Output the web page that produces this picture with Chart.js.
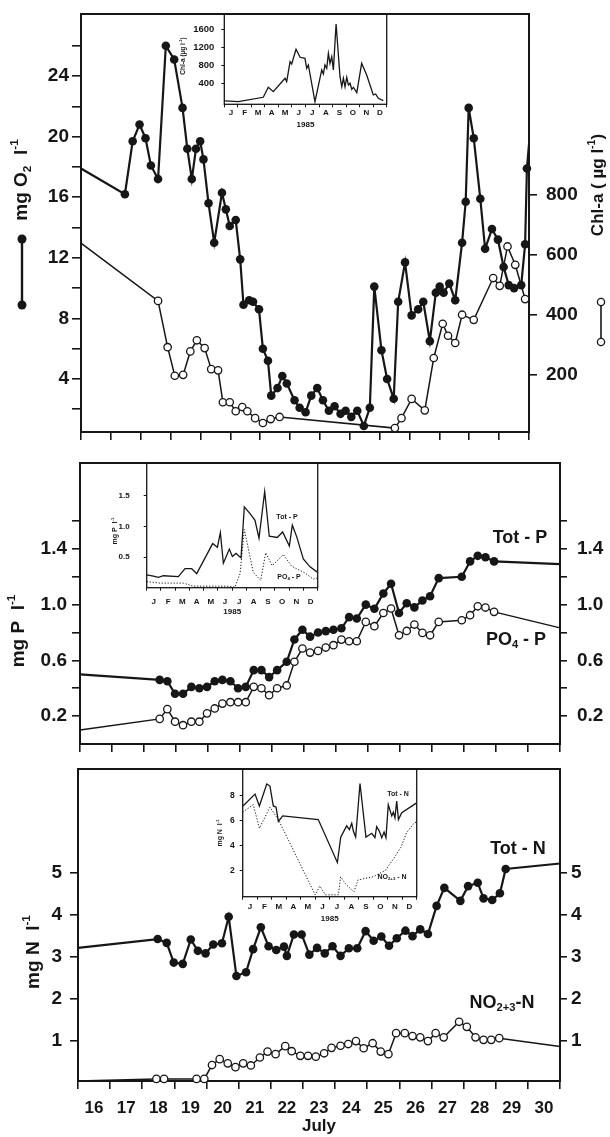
<!DOCTYPE html>
<html>
<head>
<meta charset="utf-8">
<title>July 1985 - O2, Chl-a, P and N</title>
<script src="https://cdn.jsdelivr.net/npm/chart.js"></script>
<style>
  body { margin: 0; background: #fff; width: 610px; height: 1137px; position: relative; overflow: hidden; }
  canvas { position: absolute; }
</style>
</head>
<body>
<canvas id="o2Chart"></canvas>
<canvas id="pChart"></canvas>
<canvas id="nChart"></canvas>
<canvas id="chlYear"></canvas>
<canvas id="pYear"></canvas>
<canvas id="nYear"></canvas>
<script>
'use strict';

// ************ DATA - main panels, time in days of July 1985

const o2Day = [16.00, 17.47, 17.73, 17.96, 18.16, 18.34, 18.58, 18.84, 19.12, 19.40, 19.56, 19.71, 19.85, 19.99, 20.10, 20.27, 20.46, 20.72, 20.85, 20.98,
  21.18, 21.33, 21.44, 21.63, 21.76, 21.96, 22.09, 22.26, 22.37, 22.58, 22.74, 22.89, 23.15, 23.32, 23.52, 23.71, 23.91, 24.10, 24.30, 24.49,
  24.69, 24.86, 25.05, 25.25, 25.47, 25.67, 25.82, 26.06, 26.25, 26.47, 26.62, 26.85, 27.07, 27.29, 27.46, 27.68, 27.88, 28.01, 28.14, 28.33,
  28.53, 28.76, 28.88, 28.98, 29.15, 29.37, 29.53, 29.76, 29.96, 30.15, 30.32, 30.50, 30.74, 30.87, 30.93, 31.00];
const o2Val = [17.9, 16.2, 19.7, 20.8, 19.9, 18.1, 17.2, 26.0, 25.1, 21.9, 19.2, 17.2, 19.2, 19.7, 18.5, 15.6, 13.0, 16.3, 15.2, 14.1,
  14.5, 11.9, 8.9, 9.2, 9.1, 8.6, 6.0, 5.2, 2.9, 3.4, 4.2, 3.7, 2.6, 2.1, 1.8, 2.9, 3.4, 2.6, 1.9, 2.2,
  1.7, 1.9, 1.5, 1.9, 0.9, 2.1, 10.1, 5.9, 4.0, 2.7, 9.1, 11.7, 8.2, 8.6, 9.1, 6.5, 9.7, 10.1, 9.7, 10.3,
  9.2, 13.0, 15.7, 21.9, 19.9, 15.9, 12.6, 13.9, 13.2, 11.4, 10.2, 10.0, 10.2, 12.9, 17.9, 19.5];

const chlDay = [16.00, 18.58, 18.90, 19.14, 19.42, 19.66, 19.88, 20.14, 20.36, 20.59, 20.75, 20.98, 21.18, 21.40, 21.57, 21.83, 22.09, 22.35, 22.65,
  26.51, 26.73, 27.07, 27.51, 27.81, 28.11, 28.29, 28.53, 28.76, 29.15, 29.80, 30.02, 30.28, 30.54, 30.87];
const chlVal = [638, 446, 292, 197, 200, 278, 315, 289, 219, 215, 109, 109, 79, 93, 79, 56, 40, 53, 60,
  23, 56, 120, 82, 256, 370, 330, 306, 400, 383, 522, 496, 627, 566, 452];

const pDay = [16.00, 18.49, 18.73, 18.97, 19.22, 19.48, 19.73, 19.97, 20.21, 20.45, 20.70, 20.94, 21.18, 21.43, 21.67, 21.91, 22.16, 22.46, 22.70, 22.95,
  23.19, 23.44, 23.68, 23.92, 24.17, 24.41, 24.65, 24.93, 25.20, 25.48, 25.72, 25.97, 26.21, 26.45, 26.70, 26.94, 27.21, 27.93, 28.19, 28.43,
  28.67, 28.94, 31.00];
const totPVal = [0.50, 0.46, 0.45, 0.36, 0.36, 0.41, 0.40, 0.41, 0.45, 0.46, 0.45, 0.40, 0.41, 0.53, 0.53, 0.48, 0.53, 0.59, 0.75, 0.82,
  0.77, 0.80, 0.81, 0.82, 0.83, 0.91, 0.90, 1.00, 0.97, 1.08, 1.15, 0.94, 1.01, 0.98, 1.03, 1.06, 1.19, 1.20, 1.31, 1.35,
  1.34, 1.31, 1.29];
const po4Val = [0.10, 0.18, 0.25, 0.16, 0.135, 0.16, 0.16, 0.22, 0.255, 0.29, 0.30, 0.30, 0.30, 0.41, 0.40, 0.35, 0.40, 0.42, 0.59, 0.685,
  0.656, 0.668, 0.692, 0.709, 0.749, 0.737, 0.737, 0.876, 0.845, 0.94, 0.972, 0.78, 0.811, 0.857, 0.797, 0.78, 0.876, 0.888, 0.924, 0.988,
  0.979, 0.948, 0.833];

const totNDay = [16.00, 18.48, 18.76, 18.98, 19.26, 19.51, 19.73, 19.97, 20.21, 20.48, 20.69, 20.93, 21.23, 21.45, 21.69, 21.93, 22.17, 22.41, 22.50, 22.72,
  22.96, 23.20, 23.44, 23.68, 23.92, 24.17, 24.43, 24.69, 24.95, 25.20, 25.44, 25.68, 25.92, 26.19, 26.41, 26.65, 26.89, 27.16, 27.40, 27.90,
  28.14, 28.44, 28.62, 28.89, 29.13, 29.31, 31.00];
const totNVal = [3.21, 3.42, 3.33, 2.86, 2.83, 3.41, 3.14, 3.08, 3.29, 3.32, 3.95, 2.54, 2.63, 3.18, 3.70, 3.25, 3.16, 3.24, 3.02, 3.53,
  3.53, 3.05, 3.21, 3.08, 3.25, 3.02, 3.20, 3.20, 3.61, 3.38, 3.48, 3.26, 3.44, 3.62, 3.49, 3.65, 3.54, 4.21, 4.64, 4.33,
  4.68, 4.76, 4.39, 4.35, 4.51, 5.09, 5.22];

const noxDay = [16.00, 18.44, 18.68, 19.69, 19.93, 20.17, 20.41, 20.66, 20.90, 21.14, 21.38, 21.66, 21.90, 22.15, 22.45, 22.65, 22.92, 23.16, 23.40, 23.66,
  23.89, 24.17, 24.41, 24.65, 24.89, 25.17, 25.42, 25.66, 25.90, 26.17, 26.41, 26.65, 26.89, 27.13, 27.38, 27.86, 28.10, 28.37, 28.62, 28.86,
  29.11, 31.00];
const noxVal = [0.04, 0.09, 0.09, 0.09, 0.09, 0.42, 0.56, 0.46, 0.37, 0.46, 0.41, 0.60, 0.74, 0.68, 0.87, 0.75, 0.64, 0.64, 0.62, 0.70,
  0.83, 0.88, 0.92, 0.99, 0.82, 0.94, 0.74, 0.68, 1.18, 1.18, 1.11, 1.08, 0.99, 1.18, 1.08, 1.45, 1.33, 1.08, 1.02, 1.02,
  1.06, 0.86];

// ************ DATA - insets, time in months of 1985 (0 = 1 January)

const chlYearMonth = [0.05, 1.03, 2.88, 3.25, 3.62, 4.49, 4.61, 4.86, 4.98, 5.30, 5.60, 5.96, 6.09, 6.21, 6.70, 7.20, 7.32, 7.44, 7.57, 7.69,
  7.81, 7.94, 8.06, 8.26, 8.55, 8.68, 8.80, 8.92, 9.05, 9.17, 9.29, 9.42, 9.54, 9.79, 10.15, 10.52, 11.01, 11.18, 11.38, 11.75];
const chlYearVal = [20, 0, 98, 320, 222, 520, 444, 888, 837, 1163, 986, 963, 741, 815, 0, 704, 615, 815, 741, 1074,
  852, 999, 704, 1725, 555, 333, 520, 333, 542, 370, 408, 275, 320, 200, 852, 593, 149, 171, 75, 22];

const totPYearMonth = [0, 0.47, 0.82, 1.17, 2.22, 2.69, 3.16, 3.51, 4.63, 4.96, 5.17, 5.38, 5.80, 6.01, 6.27, 6.50, 6.62, 6.85, 7.25, 7.60,
  7.88, 8.28, 8.60, 9.16, 9.54, 10.01, 10.22, 10.53, 10.99, 11.46, 12];
const totPYearVal = [0.21, 0.19, 0.17, 0.195, 0.18, 0.31, 0.31, 0.23, 0.72, 0.66, 0.90, 0.40, 0.63, 0.51, 0.56, 0.51, 0.49, 1.32, 1.21, 1.10,
  0.81, 1.57, 0.84, 0.82, 0.91, 0.68, 1.02, 0.83, 0.47, 0.34, 0.25];
const po4YearMonth = [0, 0.93, 2.57, 3.27, 5.61, 6.20, 6.55, 6.85, 7.48, 8.00, 8.35, 8.81, 9.59, 10.18, 11.11, 11.69, 12];
const po4YearVal = [0.10, 0.075, 0.075, 0.025, 0.025, 0.01, 0.23, 0.95, 0.25, 0.12, 0.57, 0.36, 0.54, 0.35, 0.24, 0.14, 0.16];

const totNYearMonth = [0, 0.85, 1.15, 1.66, 1.88, 2.11, 2.30, 2.46, 2.76, 5.21, 6.53, 6.76, 7.17, 7.36, 7.52, 7.63, 7.79, 8.09, 8.50, 8.90,
  9.12, 9.24, 9.42, 9.59, 9.75, 9.88, 10.04, 10.28, 10.39, 10.50, 10.62, 10.74, 10.97, 12];
const totNYearVal = [7.18, 8.15, 7.2, 8.97, 8.8, 7.2, 7.1, 5.95, 6.4, 6.1, 2.65, 4.69, 5.6, 5.3, 5.8, 5.18, 4.7, 9.0, 4.7, 5.0,
  4.65, 5.53, 5.18, 4.65, 5.1, 4.65, 7.3, 6.4, 6.7, 6.25, 7.6, 6.1, 6.65, 7.45];
const noxYearMonth = [0, 0.73, 1.15, 1.88, 2.46, 5.0, 5.32, 5.7, 6.6, 6.75, 7.15, 7.68, 7.95, 9.0, 9.83, 10.37, 10.9, 11.3, 11.84, 12];
const noxYearVal = [6.7, 7.3, 5.4, 7.1, 6.1, 0.05, 0.75, 0.05, 0.05, 1.5, 0.85, 0.3, 1.25, 1.5, 2.0, 2.9, 3.85, 5.05, 5.85, 5.9];

// ************ TICKS

const dayLabels = [16, 17, 18, 19, 20, 21, 22, 23, 24, 25, 26, 27, 28, 29, 30];
const monthLabels = ['J', 'F', 'M', 'A', 'M', 'J', 'J', 'A', 'S', 'O', 'N', 'D'];
const o2Ticks = [2, 4, 6, 8, 10, 12, 14, 16, 18, 20, 22, 24, 26];
const chlTicks = [200, 400, 600, 800];
const pTicks = [0.2, 0.4, 0.6, 0.8, 1.0, 1.2, 1.4, 1.6];
const pLabelled = ['0.2', '0.6', '1.0', '1.4'];
const nTicks = [1, 2, 3, 4, 5];
const chlYearTicks = [400, 800, 1200, 1600];
const pYearTicks = [0.5, 1.0, 1.5];
const nYearTicks = [2, 4, 6, 8];

// ************ HELPERS

const INK = '#161616';
const FONT = "'Liberation Sans', Arial, Helvetica, sans-serif";

function pts(xs, ys) {
  return xs.map((x, i) => ({ x: x, y: ys[i] }));
}

// draw text made of parts: [text, 0 normal | 1 subscript | 2 superscript]
function rich(ctx, parts, x, y, size, rot) {
  ctx.save();
  ctx.translate(x, y);
  if (rot) ctx.rotate(rot);
  ctx.fillStyle = INK;
  ctx.textBaseline = 'middle';
  const fnt = m => 'bold ' + (m ? size * 0.62 : size) + 'px ' + FONT;
  let w = 0;
  parts.forEach(p => { ctx.font = fnt(p[1]); w += ctx.measureText(p[0]).width; });
  let cx = -w / 2;
  parts.forEach(p => {
    ctx.font = fnt(p[1]);
    const dy = p[1] === 1 ? size * 0.3 : p[1] === 2 ? -size * 0.36 : 0;
    ctx.fillText(p[0], cx, dy);
    cx += ctx.measureText(p[0]).width;
  });
  ctx.restore();
}

// frame round the plot area + free text (page coordinates)
function deco(offX, offY, frameW, texts, extra) {
  return {
    id: 'deco',
    beforeDatasetsDraw(chart) {
      const a = chart.chartArea, ctx = chart.ctx;
      ctx.save();
      ctx.strokeStyle = INK;
      ctx.lineWidth = frameW;
      ctx.strokeRect(a.left, a.top, a.right - a.left, a.bottom - a.top);
      ctx.restore();
    },
    afterDraw(chart) {
      const ctx = chart.ctx;
      texts.forEach(t => rich(ctx, t.parts, t.x - offX, t.y - offY, t.size, t.rot));
      if (extra) extra(ctx, offX, offY);
    }
  };
}

function markerRadius(r) {
  return c => (c.raw && (c.raw.x <= 16 || c.raw.x >= 31)) ? 0 : r;
}

function filledSet(xs, ys, axis) {
  return { data: pts(xs, ys), yAxisID: axis, borderColor: INK, borderWidth: 2.2, tension: 0, clip: false,
    pointRadius: markerRadius(4.3), pointHoverRadius: 0, pointBackgroundColor: INK, pointBorderColor: INK, pointBorderWidth: 0 };
}

function openSet(xs, ys, axis) {
  return { data: pts(xs, ys), yAxisID: axis, borderColor: INK, borderWidth: 1.5, tension: 0, clip: false,
    pointRadius: markerRadius(3.7), pointHoverRadius: 0, pointBackgroundColor: '#fff', pointBorderColor: INK, pointBorderWidth: 1.3 };
}

function yAxis(pos, s, width) {
  return {
    type: 'linear', position: pos, min: s.min, max: s.max,
    afterBuildTicks: sc => { sc.ticks = s.ticks.map(v => ({ value: v })); },
    afterFit: sc => { sc.width = width; sc.paddingTop = 0; sc.paddingBottom = 0; },
    ticks: { autoSkip: false, color: INK, padding: s.pad, callback: s.label,
      font: { family: FONT, size: s.size, weight: 'bold' } },
    grid: { drawOnChartArea: false, tickLength: s.len, lineWidth: s.lw || 1.6, color: INK },
    border: { display: false }
  };
}

function edgeAxis(min, max, edges, height, len, lw) {
  return {
    type: 'linear', min: min, max: max, position: 'bottom', weight: 0,
    afterBuildTicks: sc => { sc.ticks = edges.map(v => ({ value: v })); },
    afterFit: sc => { sc.height = height; sc.paddingLeft = 0; sc.paddingRight = 0; },
    ticks: { display: false, autoSkip: false },
    grid: { drawOnChartArea: false, tickLength: len, lineWidth: lw, color: INK },
    border: { display: false }
  };
}

function labelAxis(min, max, centers, names, height, size, pad, title, titlePad) {
  return {
    type: 'linear', min: min, max: max, position: 'bottom', weight: 1,
    afterBuildTicks: sc => { sc.ticks = centers.map(v => ({ value: v })); },
    afterFit: sc => { sc.height = height; sc.paddingLeft = 0; sc.paddingRight = 0; },
    ticks: { autoSkip: false, maxRotation: 0, color: INK, padding: pad,
      callback: (v, i) => names[i], font: { family: FONT, size: size, weight: 'bold' } },
    grid: { display: false, drawTicks: false },
    border: { display: false },
    title: { display: true, text: title, color: INK, padding: { top: 0, bottom: titlePad },
      font: { family: FONT, size: size, weight: 'bold' } }
  };
}

function place(id, left, top, w, h) {
  const cv = document.getElementById(id);
  cv.width = w;
  cv.height = h;
  cv.style.left = left + 'px';
  cv.style.top = top + 'px';
  return cv;
}

function baseOptions(padTop, padRight, scales) {
  return {
    responsive: false, animation: false, events: [],
    layout: { autoPadding: false, padding: { top: padTop, right: padRight, left: 0, bottom: 0 } },
    plugins: { legend: { display: false }, tooltip: { enabled: false } },
    scales: scales
  };
}

// day boundaries for tick marks, day centres for labels
const dayEdges = dayLabels.concat([dayLabels[dayLabels.length - 1] + 1]);
const dayCenters = dayLabels.map(d => d + 0.5);
const monthEdges = monthLabels.map((m, i) => i).concat([12]);
const monthCenters = monthLabels.map((m, i) => i + 0.5);

// ************ PANEL 1 : O2 and Chl-a

const rotUp = -Math.PI / 2;

function dotSymbol(ctx, x, y1, y2, open) {
  ctx.save();
  ctx.strokeStyle = INK;
  ctx.fillStyle = open ? '#fff' : INK;
  ctx.lineWidth = open ? 1.6 : 2.4;
  ctx.beginPath();
  ctx.moveTo(x, y1);
  ctx.lineTo(x, y2);
  ctx.stroke();
  [y1, y2].forEach(y => {
    ctx.beginPath();
    ctx.arc(x, y, open ? 3.6 : 4.5, 0, Math.PI * 2);
    ctx.fill();
    if (open) { ctx.lineWidth = 1.3; ctx.stroke(); }
  });
  ctx.restore();
}

place('o2Chart', 0, 0, 610, 445);
new Chart(document.getElementById('o2Chart'), {
  type: 'line',
  data: { datasets: [filledSet(o2Day, o2Val, 'y'), openSet(chlDay, chlVal, 'y2')] },
  options: baseOptions(14, 0, {
    x: edgeAxis(16, 31, dayEdges, 13, 8, 1.6),
    y: yAxis('left', { min: 0.5, max: 28.1, ticks: o2Ticks, pad: 3, len: 9, size: 19,
      label: v => (v % 4 === 0 ? String(v) : '') }, 81),
    y2: yAxis('right', { min: 10, max: 1400, ticks: chlTicks, pad: 9, len: 8, size: 19,
      label: v => String(v) }, 81)
  }),
  plugins: [deco(0, 0, 2, [
    { parts: [['mg O', 0], ['2', 1], ['  l', 0], ['-1', 2]], x: 22, y: 180, size: 19, rot: rotUp },
    { parts: [['Chl-a ( ', 0], ['\u00b5g', 0], [' l', 0], ['-1', 2], [')', 0]], x: 598, y: 185, size: 17, rot: rotUp }
  ], (ctx, ox, oy) => {
    dotSymbol(ctx, 22 - ox, 239 - oy, 305 - oy, false);
    dotSymbol(ctx, 601 - ox, 302 - oy, 342 - oy, true);
  })]
});

// ************ PANEL 2 : Tot-P and PO4-P

const pLabel = v => (pLabelled.includes(v.toFixed(1)) ? v.toFixed(1) : '');

place('pChart', 0, 450, 610, 305);
new Chart(document.getElementById('pChart'), {
  type: 'line',
  data: { datasets: [filledSet(pDay, totPVal, 'y'), openSet(pDay, po4Val, 'y')] },
  options: baseOptions(13, 0, {
    x: edgeAxis(16, 31, dayEdges, 11, 8, 1.6),
    y: yAxis('left', { min: 0, max: 2.016, ticks: pTicks, pad: 5, len: 8, size: 19, label: pLabel }, 80),
    y2: yAxis('right', { min: 0, max: 2.016, ticks: pTicks, pad: 10, len: 7, size: 19, label: pLabel }, 50)
  }),
  plugins: [deco(0, 450, 2, [
    { parts: [['mg P  l', 0], ['-1', 2]], x: 19, y: 631, size: 19, rot: rotUp },
    { parts: [['Tot - P', 0]], x: 520, y: 538, size: 18 },
    { parts: [['PO', 0], ['4', 1], [' - P', 0]], x: 516, y: 640, size: 18 }
  ])]
});

// ************ PANEL 3 : Tot-N and NO2+3-N

place('nChart', 0, 755, 610, 382);
new Chart(document.getElementById('nChart'), {
  type: 'line',
  data: { datasets: [filledSet(totNDay, totNVal, 'y'), openSet(noxDay, noxVal, 'y')] },
  options: baseOptions(14, 0, {
    x: edgeAxis(16, 31, dayEdges, 9, 8, 1.6),
    xl: labelAxis(16, 31, dayCenters, dayLabels.map(String), 47, 17, 8, 'July', 0),
    y: yAxis('left', { min: 0.04, max: 7.47, ticks: nTicks, pad: 8, len: 8, size: 19, label: v => String(v) }, 78),
    y2: yAxis('right', { min: 0.04, max: 7.47, ticks: nTicks, pad: 4, len: 7, size: 19, label: v => String(v) }, 50)
  }),
  plugins: [deco(0, 755, 2, [
    { parts: [['mg N  l', 0], ['-1', 2]], x: 34, y: 952, size: 19, rot: rotUp },
    { parts: [['Tot - N', 0]], x: 518, y: 849, size: 18 },
    { parts: [['NO', 0], ['2+3', 1], ['-N', 0]], x: 502, y: 1003, size: 18 }
  ])]
});

// ************ INSETS : whole year 1985

function thinLine(xs, ys, dotted) {
  return { data: pts(xs, ys), borderColor: INK, borderWidth: dotted ? 1 : 1.3, borderDash: dotted ? [1.2, 1.8] : [],
    tension: 0, pointRadius: 0, pointHoverRadius: 0 };
}

function inset(id, g, datasets, ySpec, texts) {
  place(id, g.left, g.top, g.w, g.h);
  const bottomAll = g.top + g.h - g.areaBottom;
  new Chart(document.getElementById(id), {
    type: 'line',
    data: { datasets: datasets },
    options: baseOptions(g.areaTop - g.top, g.left + g.w - g.areaRight, {
      x: edgeAxis(0, 12, monthEdges, 4, 3, 1),
      xl: labelAxis(0, 12, monthCenters, monthLabels, bottomAll - 4, 8, g.labPad, '1985', g.titlePad),
      y: yAxis('left', ySpec, g.areaLeft - g.left)
    }),
    plugins: [deco(g.left, g.top, 1.3, texts)]
  });
}

inset('chlYear', { left: 165, top: 12, w: 235, h: 118, areaLeft: 224.3, areaRight: 386.7, areaTop: 14, areaBottom: 104.3, labPad: 0, titlePad: 0 },
  [thinLine(chlYearMonth, chlYearVal, false)],
  { min: -58, max: 1947, ticks: chlYearTicks, pad: 7, len: 3, size: 9.5, lw: 1, label: v => String(v) },
  [{ parts: [['Chl-a (\u00b5g l', 0], ['-1', 2], [')', 0]], x: 183, y: 56, size: 6.5, rot: rotUp }]);

inset('pYear', { left: 95, top: 460, w: 235, h: 160, areaLeft: 146.7, areaRight: 317.7, areaTop: 462.7, areaBottom: 587.7, labPad: 5, titlePad: 3.5 },
  [thinLine(totPYearMonth, totPYearVal, false), thinLine(po4YearMonth, po4YearVal, true)],
  { min: 0, max: 2.04, ticks: pYearTicks, pad: 14, len: 3, size: 8, lw: 1, label: v => v.toFixed(1) },
  [{ parts: [['mg P  l', 0], ['-1', 2]], x: 115, y: 531, size: 7, rot: rotUp },
   { parts: [['Tot - P', 0]], x: 287, y: 517, size: 7 },
   { parts: [['PO', 0], ['4', 1], [' - P', 0]], x: 289, y: 577, size: 7 }]);

inset('nYear', { left: 190, top: 766, w: 240, h: 160, areaLeft: 242.7, areaRight: 416.7, areaTop: 769, areaBottom: 896.7, labPad: 1.2, titlePad: 2.2 },
  [thinLine(totNYearMonth, totNYearVal, false), thinLine(noxYearMonth, noxYearVal, true)],
  { min: -0.1, max: 10.17, ticks: nYearTicks, pad: 5, len: 3, size: 8.5, lw: 1, label: v => String(v) },
  [{ parts: [['mg N  l', 0], ['-1', 2]], x: 220, y: 833, size: 7, rot: rotUp },
   { parts: [['Tot - N', 0]], x: 398, y: 794, size: 7 },
   { parts: [['NO', 0], ['2+3', 1], [' - N', 0]], x: 392, y: 877, size: 7 }]);
</script>
</body>
</html>
